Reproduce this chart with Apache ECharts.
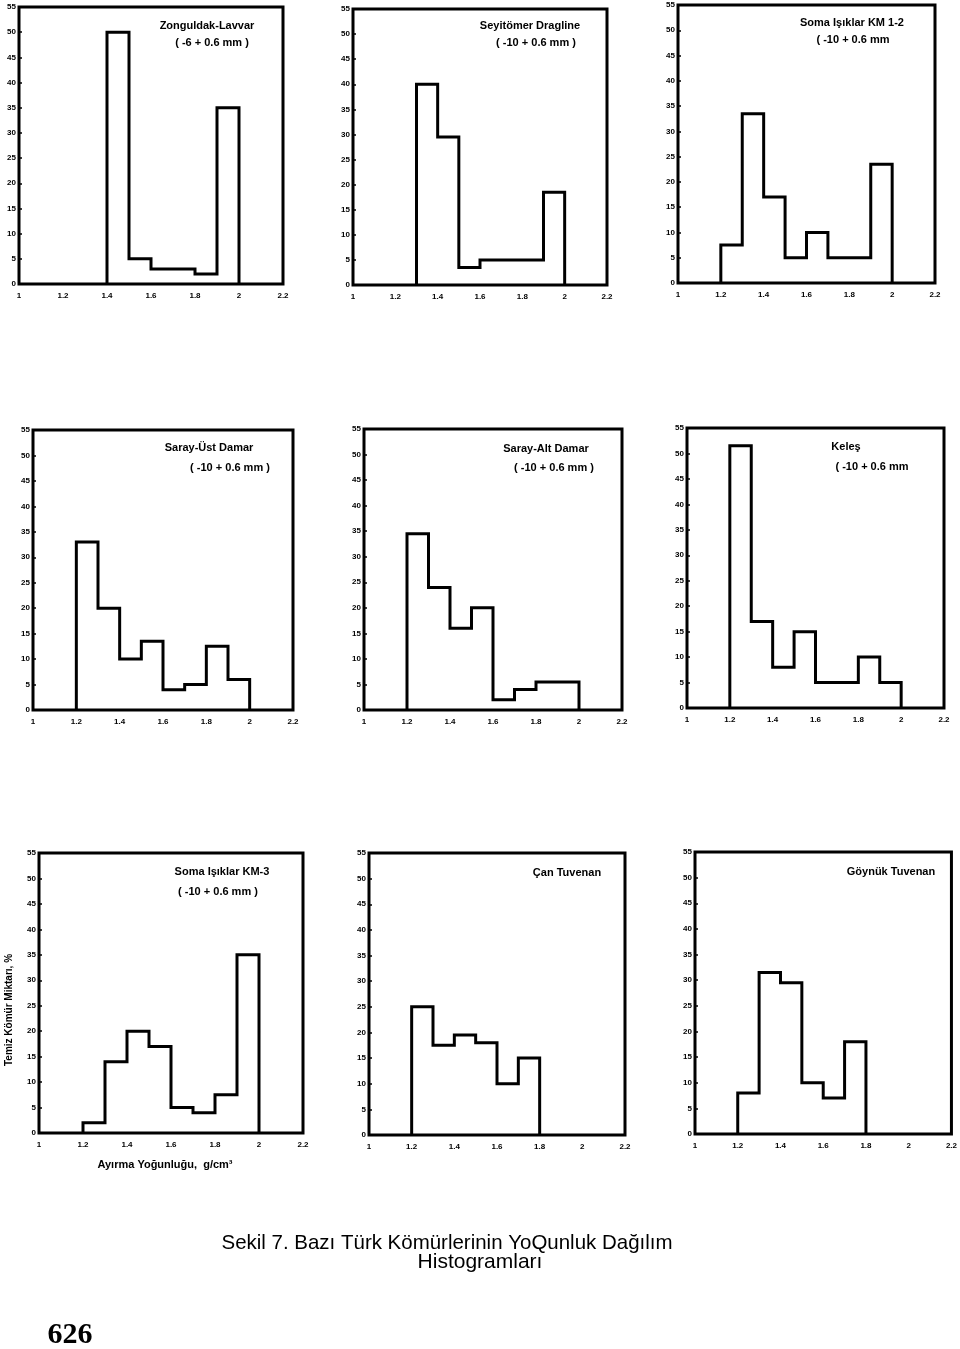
<!DOCTYPE html>
<html>
<head>
<meta charset="utf-8">
<script src="https://cdn.jsdelivr.net/npm/echarts@6/dist/echarts.min.js"></script>
<style>
    html, body {margin: 0; padding: 0; background: #fff;}
    #chart {width: 960px; height: 1349px;}
</style>
</head>
<body>
<div id="chart"></div>
<script>
// lower edge of each 0.1 g/cm3 density class
const binLower = [1.2, 1.3, 1.4, 1.5, 1.6, 1.7, 1.8, 1.9];
const binWidth = 0.1;

// clean coal share per class (%), null = empty class
const zonguldakLavvar = [null, null, 50, 5, 3, 3, 2, 35];
const seyitomerDragline = [null, 40, 29.5, 3.5, 5, 5, 5, 18.5];
const somaKm12 = [7.5, 33.5, 17, 5, 10, 5, 5, 23.5];
const sarayUst = [33, 20, 10, 13.5, 4, 5, 12.5, 6];
const sarayAlt = [34.5, 24, 16, 20, 2, 4, 5.5, 5.5];
const keles = [51.5, 17, 8, 15, 5, 5, 10, 5];
const somaKm3 = [2, 14, 20, 17, 5, 4, 7.5, 35];
const canTuvenan = [25, 17.5, 19.5, 18, 10, 15, null, null];
const goynukTuvenan = [8, 31.5, 29.5, 10, 7, 18, null, null];

const xTickLabels = ['1', '1.2', '1.4', '1.6', '1.8', '2', '2.2'];
const yTickLabels = ['0', '5', '10', '15', '20', '25', '30', '35', '40', '45', '50', '55'];

const panels = [
    {values: zonguldakLavvar, name: 'Zonguldak-Lavvar', size: '( -6 + 0.6 mm )', box: [19, 7, 264, 277], t1: [207, 26], t2: [212, 43]},
    {values: seyitomerDragline, name: 'Seyitömer Dragline', size: '( -10 + 0.6 mm )', box: [353, 9, 254, 276], t1: [530, 26], t2: [536, 43]},
    {values: somaKm12, name: 'Soma Işıklar KM 1-2', size: '( -10 + 0.6 mm', box: [678, 5, 257, 278], t1: [852, 23], t2: [853, 40]},
    {values: sarayUst, name: 'Saray-Üst Damar', size: '( -10 + 0.6 mm )', box: [33, 430, 260, 280], t1: [209, 448], t2: [230, 468]},
    {values: sarayAlt, name: 'Saray-Alt Damar', size: '( -10 + 0.6 mm )', box: [364, 429, 258, 281], t1: [546, 449], t2: [554, 468]},
    {values: keles, name: 'Keleş', size: '( -10 + 0.6 mm', box: [687, 428, 257, 280], t1: [846, 447], t2: [872, 467]},
    {values: somaKm3, name: 'Soma Işıklar KM-3', size: '( -10 + 0.6 mm )', box: [39, 853, 264, 280], t1: [222, 872], t2: [218, 892]},
    {values: canTuvenan, name: 'Çan Tuvenan', size: null, box: [369, 853, 256, 282], t1: [567, 873]},
    {values: goynukTuvenan, name: 'Göynük Tuvenan', size: null, box: [695, 852, 257, 282], t1: [891, 872]},
];

// histogram outline through bin edges
function outline(values) {
    const first = values.findIndex(v => v != null);
    let last = values.length - 1;
    while (values[last] == null) last--;
    const pts = [[binLower[first], 0]];
    for (let i = first; i <= last; i++) {
        const hi = +(binLower[i] + binWidth).toFixed(2);
        pts.push([binLower[i], values[i]]);
        pts.push([hi, values[i]]);
    }
    pts.push([+(binLower[last] + binWidth).toFixed(2), 0]);
    return pts;
}

const labelFont = {color: '#000', fontSize: 8, fontWeight: 'bold', fontFamily: 'Arial, Liberation Sans, sans-serif'};
const titleFont = {fill: '#000', fontSize: 11, fontWeight: 'bold', fontFamily: 'Arial, Liberation Sans, sans-serif'};

const grid = [], xAxis = [], yAxis = [], series = [], graphic = [];
panels.forEach((p, i) => {
    grid.push({left: p.box[0], top: p.box[1], width: p.box[2], height: p.box[3], show: true,
        borderColor: '#000', borderWidth: 3, backgroundColor: 'transparent'});
    xAxis.push({type: 'value', gridIndex: i, min: 1, max: 2.2, interval: 0.2,
        axisLine: {show: false}, axisTick: {show: false}, splitLine: {show: false},
        axisLabel: {...labelFont, margin: 8, formatter: v => xTickLabels[Math.round((v - 1) / 0.2)]}});
    yAxis.push({type: 'value', gridIndex: i, min: 0, max: 55, interval: 5,
        axisLine: {show: false}, splitLine: {show: false},
        axisTick: {show: true, inside: true, length: 3, lineStyle: {color: '#000', width: 1.5}},
        axisLabel: {...labelFont, margin: 3, formatter: v => yTickLabels[Math.round(v / 5)]}});
    series.push({type: 'line', xAxisIndex: i, yAxisIndex: i, symbol: 'none', animation: false,
        lineStyle: {color: '#000', width: 3, join: 'miter'}, data: outline(p.values)});
    graphic.push({type: 'text', x: p.t1[0], y: p.t1[1],
        style: {...titleFont, text: p.name, align: 'center', verticalAlign: 'middle'}});
    if (p.size) {
        graphic.push({type: 'text', x: p.t2[0], y: p.t2[1],
            style: {...titleFont, text: p.size, align: 'center', verticalAlign: 'middle'}});
    }
});

const captionFont = {fill: '#000', fontSize: 21, fontFamily: 'Liberation Sans Narrow, Arial Narrow, Arial, sans-serif'};
graphic.push(
    {type: 'text', x: 9, y: 1010, rotation: Math.PI / 2,
        style: {...titleFont, fontSize: 10, text: 'Temiz Kömür Miktarı, %', align: 'center', verticalAlign: 'middle'}},
    {type: 'text', x: 165, y: 1165,
        style: {...titleFont, text: 'Ayırma Yoğunluğu,  g/cm³', align: 'center', verticalAlign: 'middle'}},
    {type: 'text', x: 447, y: 1243, scaleX: 0.975, originX: 0, originY: 0,
        style: {...captionFont, text: 'Sekil 7. Bazı Türk Kömürlerinin YoQunluk Dağılım', align: 'center', verticalAlign: 'middle'}},
    {type: 'text', x: 480, y: 1262,
        style: {...captionFont, text: 'Histogramları', align: 'center', verticalAlign: 'middle'}},
    {type: 'text', x: 70, y: 1335,
        style: {fill: '#000', fontSize: 30, fontWeight: 'bold', fontFamily: 'Liberation Serif, Times New Roman, serif',
            text: '626', align: 'center', verticalAlign: 'middle'}}
);

const chart = echarts.init(document.getElementById('chart'), null, {renderer: 'canvas'});
chart.setOption({animation: false, backgroundColor: '#fff', grid, xAxis, yAxis, series, graphic});
</script>
</body>
</html>
